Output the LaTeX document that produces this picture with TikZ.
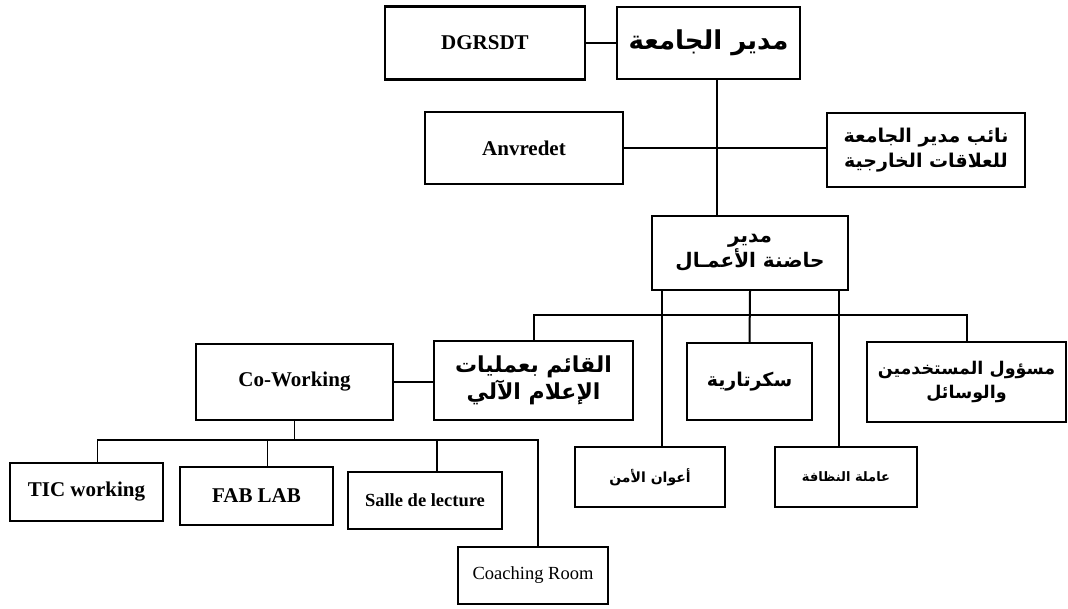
\documentclass[tikz,border=0pt]{standalone}
\usepackage{fontspec}
\setmainfont{Liberation Serif}
\newfontfamily\arabicfont[Script=Arabic]{DejaVu Sans}
\TeXXeTstate=1
\tikzset{
  unit/.style={draw,line width=2.2pt,inner sep=0pt,align=center},
  ar/.style={font=\arabicfont\bfseries\fontsize{20}{25}\selectfont},
  lat/.style={font=\bfseries\fontsize{21}{24}\selectfont},
  trunk/.style={line width=2.6pt},
  link/.style={line width=1.5pt}
}
\begin{document}
\begin{tikzpicture}[x=1pt,y=-1pt]
            \useasboundingbox (0,0) rectangle (1068,608);

            \node[unit,lat,minimum width=200,minimum height=73] (dgrsdt) at(485,43) {DGRSDT};
            \node[unit,font=\arabicfont\bfseries\fontsize{26}{30}\selectfont,minimum width=183,minimum height=72] (recteur) at(708.5,43) {\beginR مدير الجامعة\endR};
            \node[unit,lat,minimum width=198,minimum height=72] (anvredet) at(524,148) {Anvredet};
            \node[unit,ar,font=\arabicfont\bfseries\fontsize{19}{25}\selectfont,minimum width=198,minimum height=74] (vice) at(926,150) {\beginR نائب مدير الجامعة\endR\\\beginR للعلاقات الخارجية\endR};
            \node[unit,ar,minimum width=196,minimum height=74] (hadina) at(750,253) {\beginR مدير\endR\\\beginR حاضنة الأعمـال\endR};

            \node[unit,ar,font=\arabicfont\bfseries\fontsize{22}{27}\selectfont,minimum width=199,minimum height=79] (ilam) at(533.5,380.5) {\beginR القائم بعمليات\endR\\\beginR الإعلام الآلي\endR};
            \node[unit,font=\arabicfont\bfseries\fontsize{19}{24}\selectfont,minimum width=125,minimum height=77] (secr) at(749.5,381.5) {\beginR سكرتارية\endR};
            \node[unit,font=\arabicfont\bfseries\fontsize{17.5}{24}\selectfont,minimum width=199,minimum height=80] (masul) at(966.5,382) {\beginR مسؤول المستخدمين\endR\\\beginR والوسائل\endR};
            \node[unit,font=\arabicfont\bfseries\fontsize{14}{18}\selectfont,minimum width=150,minimum height=60] (amn) at(650,477) {\beginR أعوان الأمن\endR};
            \node[unit,font=\arabicfont\bfseries\fontsize{13}{18}\selectfont,minimum width=142,minimum height=60] (nadhafa) at(846,477) {\beginR عاملة النظافة\endR};

            \node[unit,lat,minimum width=197,minimum height=76] (cowork) at(294.5,382) {Co-Working};
            \node[unit,lat,minimum width=153,minimum height=58] (tic) at(86.5,492) {TIC working};
            \node[unit,lat,minimum width=153,minimum height=58] (fab) at(256.5,496) {FAB LAB};
            \node[unit,font=\bfseries\fontsize{18.5}{22}\selectfont,minimum width=154,minimum height=57] (salle) at(425,500.5) {Salle de lecture};
            \node[unit,font=\fontsize{18.5}{22}\selectfont,minimum width=150,minimum height=57] (coach) at(533,575.5) {Coaching Room};

            \coordinate (spine) at(717,0);
            \coordinate (bus) at(0,315);
            \coordinate (lbus) at(0,440);

            \draw[trunk] (dgrsdt.east) -- (recteur.west);
            \draw[trunk] (recteur.south -| spine) -- (hadina.north -| spine);
            \draw[trunk] (anvredet.east) -- (anvredet.east -| vice.west);

            \draw[link,line width=2pt] (hadina.south) -- (secr.north);
            \draw[link,line width=2pt] ([xshift=12]amn.north |- hadina.south) -- ([xshift=12]amn.north);
            \draw[link,line width=2pt] ([xshift=-7]nadhafa.north |- hadina.south) -- ([xshift=-7]nadhafa.north);
            \draw[link,line width=2pt] (ilam.north) -- (ilam.north |- bus) -- (masul.north |- bus) -- (masul.north);

            \draw[link] (cowork.east) -- (cowork.east -| ilam.west);
            \draw[link] (cowork.south) -- (cowork.south |- lbus);
            \draw[link] ([xshift=11]tic.north) -- ([xshift=11]tic.north |- lbus) -- ([xshift=5]coach.north |- lbus) -- ([xshift=5]coach.north);
            \draw[link] ([xshift=11]fab.north) -- ([xshift=11]fab.north |- lbus);
            \draw[link] ([xshift=12]salle.north) -- ([xshift=12]salle.north |- lbus);
        \end{tikzpicture}
\end{document}
